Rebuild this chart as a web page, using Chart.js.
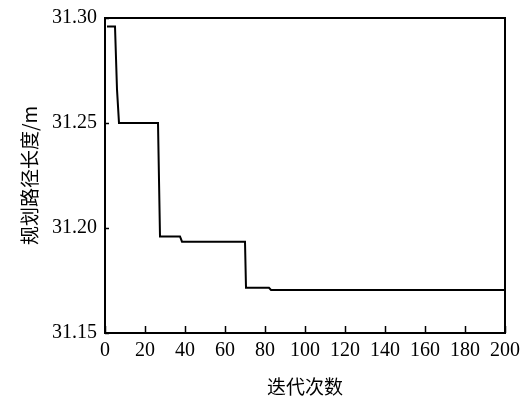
<!DOCTYPE html>
<html>
<head>
<meta charset="utf-8">
<script src="https://cdn.jsdelivr.net/npm/chart.js@4/dist/chart.umd.min.js"></script>
<style>
  html, body { margin: 0; padding: 0; background: #fff; }
  #wrap { width: 530px; height: 398px; }
</style>
</head>
<body>
<div id="wrap"><canvas id="chart"></canvas></div>
<script>
// iteration numbers and best path length at each break of the curve
const iterations = [1, 5, 6, 7, 26.5, 27.5, 37.5, 38.5, 70, 70.5, 82, 83, 200];
const pathLength = [31.296, 31.296, 31.266, 31.25, 31.25, 31.196, 31.196, 31.1935, 31.1935, 31.1715, 31.1715, 31.1705, 31.1705];
const xTicks = [0, 20, 40, 60, 80, 100, 120, 140, 160, 180, 200];
const yTicks = [31.15, 31.20, 31.25, 31.30];

const serif = '"Liberation Serif", "Times New Roman", serif';
const cjk = '"Noto Sans CJK SC", sans-serif';

// short inward ticks and the box round the plot
const frame = {
    id: 'frame',
    afterDraw(chart) {
        const ctx = chart.ctx;
        const a = chart.chartArea;
        const xs = chart.scales.x, ys = chart.scales.y;
        ctx.save();
        ctx.strokeStyle = '#000';
        ctx.lineWidth = 1.5;
        xTicks.forEach(v => {
            const px = Math.round(xs.getPixelForValue(v)) + 0.5;
            ctx.beginPath();
            ctx.moveTo(px, a.bottom);
            ctx.lineTo(px, a.bottom - 7);
            ctx.stroke();
        });
        yTicks.forEach(v => {
            const py = Math.round(ys.getPixelForValue(v)) + 0.5;
            ctx.beginPath();
            ctx.moveTo(a.left, py);
            ctx.lineTo(a.left + 4, py);
            ctx.stroke();
        });
        ctx.lineWidth = 2;
        ctx.strokeRect(a.left, a.top, a.right - a.left, a.bottom - a.top);
        ctx.restore();
    }
};

new Chart(document.getElementById('chart').getContext('2d'), {
    type: 'line',
    data: {
        datasets: [{
            data: iterations.map((x, i) => ({ x: x, y: pathLength[i] })),
            borderColor: '#000',
            borderWidth: 2,
            pointRadius: 0
        }]
    },
    options: {
        responsive: true,
        maintainAspectRatio: false,
        animation: false,
        layout: { padding: { top: 17, right: 25 } },
        plugins: { legend: { display: false } },
        scales: {
            x: {
                type: 'linear', min: 0, max: 200,
                afterBuildTicks: s => { s.ticks = xTicks.map(v => ({ value: v })); },
                afterFit: s => { s.height = 65; },
                grid: { display: false, drawTicks: false },
                border: { color: '#000', width: 2 },
                ticks: { color: '#000', padding: 6, maxRotation: 0, font: { family: serif, size: 20 } },
                title: { display: true, text: '迭代次数', color: '#000', padding: { top: 8, bottom: 0 }, font: { family: cjk, size: 19 } }
            },
            y: {
                min: 31.15, max: 31.30,
                afterBuildTicks: s => { s.ticks = yTicks.map(v => ({ value: v })); },
                afterFit: s => { s.width = 105; },
                grid: { display: false, drawTicks: false },
                border: { color: '#000', width: 2 },
                ticks: { color: '#000', padding: 8, font: { family: serif, size: 20, lineHeight: 1 }, callback: v => v.toFixed(2) },
                title: { display: true, text: '规划路径长度/m', color: '#000', padding: { top: 18, bottom: 0 }, font: { family: cjk, size: 19 } }
            }
        }
    },
    plugins: [frame]
});
</script>
</body>
</html>
